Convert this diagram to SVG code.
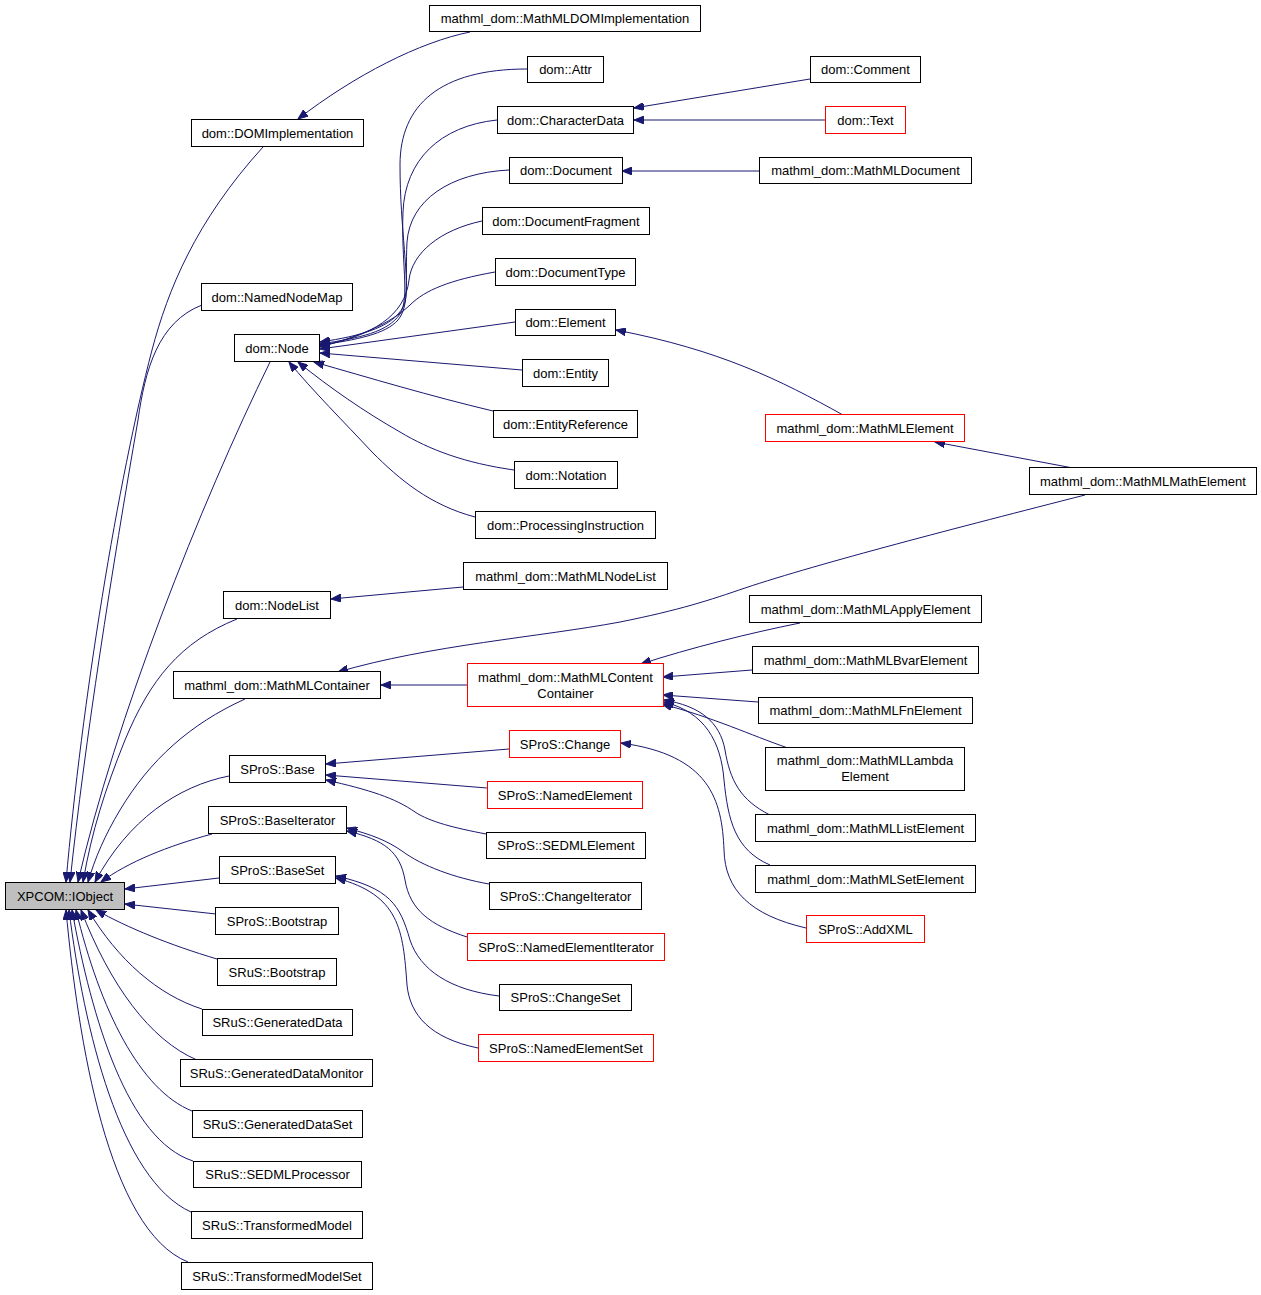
<svg xmlns="http://www.w3.org/2000/svg" width="1261" height="1295" viewBox="0 0 1261 1295">
<style>
rect{fill:#fff;stroke:#000;stroke-width:1}
.r rect{stroke:#ff0000}
.g rect{fill:#bfbfbf}
text{font-family:"Liberation Sans",Arial,Helvetica,sans-serif;font-size:13px;text-anchor:middle;fill:#000}
#edges path{fill:none;stroke:#191970;stroke-width:1;marker-end:url(#arr)}
</style>
<defs>
<marker id="arr" markerWidth="11" markerHeight="8" refX="10" refY="4" orient="auto" markerUnits="userSpaceOnUse">
<path d="M0,0 L10,4 L0,8 z" fill="#191970" stroke="#191970" stroke-width="1"/>
</marker>
</defs>
<rect x="0" y="0" width="1261" height="1295" style="fill:#fff;stroke:none"/>
<g id="edges">
<path d="M263,147 C195,222 168,290 152,350 C118,480 82,700 66,882"/>
<path d="M202,305 C158,322 145,370 138,420 C112,570 85,740 70,882"/>
<path d="M270,362 C200,505 115,720 78,882"/>
<path d="M237,619 C180,642 150,680 125,740 C105,790 92,830 83,882"/>
<path d="M245,699 C190,724 150,760 120,810 C105,835 95,858 88,882"/>
<path d="M229,776 C178,786 128,820 95,882"/>
<path d="M212,834 C168,846 128,862 101,882"/>
<path d="M219,878 L125,889"/>
<path d="M216,914 L125,904"/>
<path d="M217,959 C170,945 128,928 96,910"/>
<path d="M202,1009 C158,995 118,960 88,910"/>
<path d="M197,1060 C150,1040 110,985 81,910"/>
<path d="M192,1111 C140,1090 100,1010 76,910"/>
<path d="M193,1161 C128,1140 92,1020 72,910"/>
<path d="M191,1212 C120,1180 84,1030 69,910"/>
<path d="M188,1262 C108,1230 78,1040 66,910"/>
<path d="M527,69 C440,69 400,105 400,165 C400,230 410,280 405,302 C398,326 362,336 320,342"/>
<path d="M497,120 C440,126 405,160 403,212 C401,262 410,298 400,314 C388,332 360,338 320,344"/>
<path d="M509,170 C450,173 410,200 407,242 C405,282 410,305 398,320 C386,334 356,340 320,345"/>
<path d="M482,221 C440,230 412,253 409,280 C405,316 372,336 320,346"/>
<path d="M495,272 C450,280 425,290 410,305 C390,324 360,336 320,347"/>
<path d="M515,322 L320,349"/>
<path d="M522,370 L320,353"/>
<path d="M493,411 C430,396 370,378 314,362"/>
<path d="M514,470 C465,463 430,450 400,432 C365,412 330,388 298,362"/>
<path d="M475,517 C430,505 400,480 372,452 C345,423 312,390 289,362"/>
<path d="M470,32 C420,42 355,75 298,119"/>
<path d="M810,79 L634,108"/>
<path d="M825,120 L634,120"/>
<path d="M759,171 L622,171"/>
<path d="M843,415 C780,380 720,350 616,330"/>
<path d="M1073,468 L935,442"/>
<path d="M1085,495 C960,527 820,563 745,588 C710,600 680,610 620,622 C540,637 430,645 338,672"/>
<path d="M463,587 L331,599"/>
<path d="M467,685 L381,685"/>
<path d="M800,623 C750,633 690,648 641,664"/>
<path d="M752,670 L663,677"/>
<path d="M758,702 L663,695"/>
<path d="M788,748 C750,735 715,718 662,704"/>
<path d="M770,815 C740,800 730,780 725,750 C720,722 700,706 664,700"/>
<path d="M770,865 C735,850 728,820 724,780 C721,742 705,712 664,702"/>
<path d="M806,928 C750,915 725,890 724,850 C722,800 710,755 621,743"/>
<path d="M509,749 L326,764"/>
<path d="M487,788 L326,775"/>
<path d="M486,834 C455,828 430,822 415,812 C395,798 370,790 326,780"/>
<path d="M489,884 C455,878 422,866 402,851 C386,840 372,835 347,828"/>
<path d="M467,937 C430,925 410,910 405,880 C400,852 385,840 347,831"/>
<path d="M499,996 C450,990 420,970 410,940 C400,905 390,888 336,876"/>
<path d="M478,1048 C430,1038 410,1015 407,985 C403,930 400,895 336,878"/>
</g>
<g id="n_mdomimpl"><rect x="429.5" y="5.5" width="271" height="26"/><text x="565" y="23">mathml_dom::MathMLDOMImplementation</text></g>
<g id="n_domimpl"><rect x="191.5" y="119.5" width="172" height="27"/><text x="277.5" y="137.5">dom::DOMImplementation</text></g>
<g id="n_attr"><rect x="527.5" y="56.5" width="76" height="26"/><text x="565.5" y="74">dom::Attr</text></g>
<g id="n_chardata"><rect x="497.5" y="106.5" width="136" height="27"/><text x="565.5" y="124.5">dom::CharacterData</text></g>
<g id="n_document"><rect x="509.5" y="157.5" width="113" height="26"/><text x="566" y="175">dom::Document</text></g>
<g id="n_docfrag"><rect x="482.5" y="207.5" width="167" height="27"/><text x="566" y="225.5">dom::DocumentFragment</text></g>
<g id="n_doctype"><rect x="495.5" y="258.5" width="140" height="27"/><text x="565.5" y="276.5">dom::DocumentType</text></g>
<g id="n_element"><rect x="515.5" y="309.5" width="100" height="26"/><text x="565.5" y="327">dom::Element</text></g>
<g id="n_entity"><rect x="522.5" y="359.5" width="86" height="27"/><text x="565.5" y="377.5">dom::Entity</text></g>
<g id="n_entref"><rect x="493.5" y="410.5" width="144" height="27"/><text x="565.5" y="428.5">dom::EntityReference</text></g>
<g id="n_notation"><rect x="514.5" y="461.5" width="103" height="27"/><text x="566" y="479.5">dom::Notation</text></g>
<g id="n_procinstr"><rect x="475.5" y="511.5" width="180" height="27"/><text x="565.5" y="529.5">dom::ProcessingInstruction</text></g>
<g id="n_mnodelist"><rect x="463.5" y="562.5" width="204" height="27"/><text x="565.5" y="580.5">mathml_dom::MathMLNodeList</text></g>
<g id="n_mcc" class="r"><rect x="467.5" y="663.5" width="196" height="43"/><text x="565.5" y="681.5">mathml_dom::MathMLContent</text><text x="565.5" y="697.5">Container</text></g>
<g id="n_change" class="r"><rect x="509.5" y="730.5" width="111" height="27"/><text x="565" y="748.5">SProS::Change</text></g>
<g id="n_namedel" class="r"><rect x="487.5" y="781.5" width="155" height="27"/><text x="565" y="799.5">SProS::NamedElement</text></g>
<g id="n_sedmlel"><rect x="486.5" y="832.5" width="159" height="26"/><text x="566" y="850">SProS::SEDMLElement</text></g>
<g id="n_changeit"><rect x="489.5" y="882.5" width="152" height="27"/><text x="565.5" y="900.5">SProS::ChangeIterator</text></g>
<g id="n_namedelit" class="r"><rect x="467.5" y="933.5" width="197" height="27"/><text x="566" y="951.5">SProS::NamedElementIterator</text></g>
<g id="n_changeset"><rect x="499.5" y="984.5" width="132" height="26"/><text x="565.5" y="1002">SProS::ChangeSet</text></g>
<g id="n_namedelset" class="r"><rect x="478.5" y="1034.5" width="175" height="27"/><text x="566" y="1052.5">SProS::NamedElementSet</text></g>
<g id="n_comment"><rect x="810.5" y="56.5" width="110" height="26"/><text x="865.5" y="74">dom::Comment</text></g>
<g id="n_text" class="r"><rect x="825.5" y="106.5" width="80" height="27"/><text x="865.5" y="124.5">dom::Text</text></g>
<g id="n_mdoc"><rect x="759.5" y="157.5" width="212" height="26"/><text x="865.5" y="175">mathml_dom::MathMLDocument</text></g>
<g id="n_mel" class="r"><rect x="765.5" y="414.5" width="199" height="27"/><text x="865" y="432.5">mathml_dom::MathMLElement</text></g>
<g id="n_mmath"><rect x="1029.5" y="467.5" width="227" height="27"/><text x="1143" y="485.5">mathml_dom::MathMLMathElement</text></g>
<g id="n_apply"><rect x="749.5" y="595.5" width="232" height="27"/><text x="865.5" y="613.5">mathml_dom::MathMLApplyElement</text></g>
<g id="n_bvar"><rect x="752.5" y="646.5" width="226" height="27"/><text x="865.5" y="664.5">mathml_dom::MathMLBvarElement</text></g>
<g id="n_fn"><rect x="758.5" y="697.5" width="214" height="26"/><text x="865.5" y="715">mathml_dom::MathMLFnElement</text></g>
<g id="n_lambda"><rect x="765.5" y="747.5" width="199" height="43"/><text x="865" y="765">mathml_dom::MathMLLambda</text><text x="865" y="781">Element</text></g>
<g id="n_list"><rect x="755.5" y="814.5" width="220" height="27"/><text x="865.5" y="832.5">mathml_dom::MathMLListElement</text></g>
<g id="n_set"><rect x="755.5" y="865.5" width="220" height="27"/><text x="865.5" y="883.5">mathml_dom::MathMLSetElement</text></g>
<g id="n_addxml" class="r"><rect x="806.5" y="915.5" width="118" height="27"/><text x="865.5" y="933.5">SProS::AddXML</text></g>
<g id="n_iobject" class="g"><rect x="5.5" y="882.5" width="119" height="27"/><text x="65" y="900.5">XPCOM::IObject</text></g>
<g id="n_namednodemap"><rect x="201.5" y="283.5" width="151" height="27"/><text x="277" y="301.5">dom::NamedNodeMap</text></g>
<g id="n_node"><rect x="234.5" y="334.5" width="85" height="27"/><text x="277" y="352.5">dom::Node</text></g>
<g id="n_nodelist"><rect x="223.5" y="591.5" width="107" height="27"/><text x="277" y="609.5">dom::NodeList</text></g>
<g id="n_mcont"><rect x="173.5" y="671.5" width="207" height="27"/><text x="277" y="689.5">mathml_dom::MathMLContainer</text></g>
<g id="n_base"><rect x="229.5" y="755.5" width="96" height="27"/><text x="277.5" y="773.5">SProS::Base</text></g>
<g id="n_baseit"><rect x="208.5" y="806.5" width="138" height="27"/><text x="277.5" y="824.5">SProS::BaseIterator</text></g>
<g id="n_baseset"><rect x="219.5" y="856.5" width="116" height="27"/><text x="277.5" y="874.5">SProS::BaseSet</text></g>
<g id="n_prosboot"><rect x="215.5" y="907.5" width="123" height="27"/><text x="277" y="925.5">SProS::Bootstrap</text></g>
<g id="n_rusboot"><rect x="217.5" y="958.5" width="119" height="27"/><text x="277" y="976.5">SRuS::Bootstrap</text></g>
<g id="n_gendata"><rect x="202.5" y="1009.5" width="150" height="26"/><text x="277.5" y="1027">SRuS::GeneratedData</text></g>
<g id="n_gdmon"><rect x="180.5" y="1059.5" width="192" height="27"/><text x="276.5" y="1077.5">SRuS::GeneratedDataMonitor</text></g>
<g id="n_gdset"><rect x="192.5" y="1110.5" width="170" height="27"/><text x="277.5" y="1128.5">SRuS::GeneratedDataSet</text></g>
<g id="n_sedmlproc"><rect x="193.5" y="1161.5" width="168" height="26"/><text x="277.5" y="1179">SRuS::SEDMLProcessor</text></g>
<g id="n_tmodel"><rect x="191.5" y="1211.5" width="171" height="27"/><text x="277" y="1229.5">SRuS::TransformedModel</text></g>
<g id="n_tmodelset"><rect x="181.5" y="1262.5" width="191" height="27"/><text x="277" y="1280.5">SRuS::TransformedModelSet</text></g>
</svg>
